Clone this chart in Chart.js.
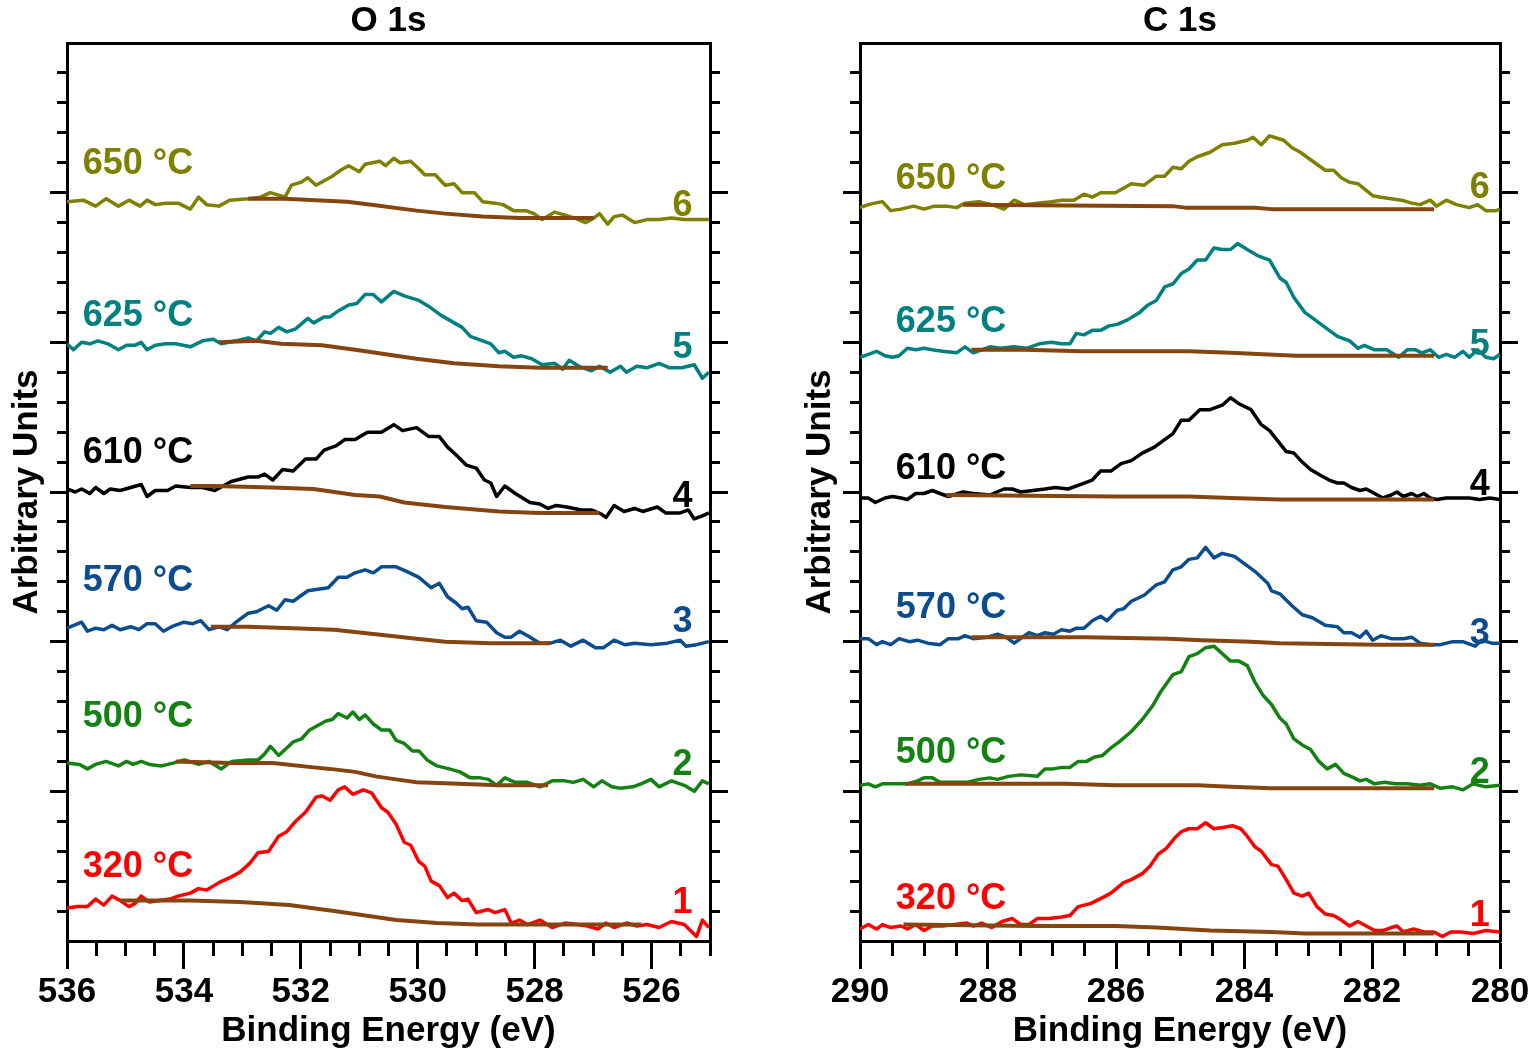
<!DOCTYPE html>
<html><head><meta charset="utf-8">
<script src="https://cdn.jsdelivr.net/npm/chart.js@4.4.1/dist/chart.umd.min.js"></script>
<style>
html,body{margin:0;padding:0;background:#fff;}
#wrap{position:relative;width:1534px;height:1052px;overflow:hidden;background:#fff;}
canvas{position:absolute;top:0;}
</style></head><body>
<div id="wrap">
<canvas id="cO" width="767" height="1052" style="left:0px"></canvas>
<canvas id="cC" width="767" height="1052" style="left:767px"></canvas>
</div>
<script>
// ---------- labels ----------
const panelTitles = ['O 1s', 'C 1s'];
const tempLabels = ['320 °C', '500 °C', '570 °C', '610 °C', '625 °C', '650 °C'];
const numLabels = ['1', '2', '3', '4', '5', '6'];
const xTicksO = [536, 534, 532, 530, 528, 526];
const xTicksC = [290, 288, 286, 284, 282, 280];
const yMajorTicks = [1, 2, 3, 4, 5];

// ---------- O 1s spectra: [binding energy (eV), intensity (a.u.)] ----------
const o1s_320 = [[536.00,0.22],[535.82,0.23],[535.65,0.23],[535.51,0.28],[535.37,0.24],[535.23,0.30],[535.09,0.27],[534.94,0.23],[534.84,0.25],[534.73,0.30],[534.59,0.26],[534.42,0.27],[534.24,0.28],[534.10,0.30],[533.89,0.32],[533.75,0.35],[533.61,0.34],[533.40,0.39],[533.18,0.43],[533.04,0.46],[532.87,0.52],[532.73,0.59],[532.55,0.60],[532.38,0.70],[532.24,0.73],[532.09,0.80],[531.92,0.86],[531.74,0.96],[531.64,0.97],[531.50,0.94],[531.36,1.01],[531.25,1.03],[531.11,0.98],[530.93,1.01],[530.79,0.99],[530.62,0.89],[530.51,0.86],[530.37,0.78],[530.23,0.66],[530.12,0.64],[529.98,0.53],[529.88,0.50],[529.77,0.40],[529.63,0.37],[529.49,0.29],[529.38,0.32],[529.24,0.27],[529.14,0.28],[529.00,0.19],[528.79,0.21],[528.68,0.19],[528.51,0.21],[528.40,0.12],[528.26,0.14],[528.12,0.11],[527.91,0.14],[527.70,0.09],[527.48,0.12],[527.27,0.11],[527.10,0.10],[526.92,0.08],[526.78,0.12],[526.64,0.09],[526.43,0.12],[526.25,0.10],[526.08,0.11],[525.87,0.09],[525.66,0.13],[525.44,0.11],[525.23,0.03],[525.13,0.14],[525.02,0.09]];
const o1s_500 = [[536.00,1.19],[535.79,1.18],[535.65,1.15],[535.51,1.18],[535.33,1.20],[535.12,1.17],[534.98,1.20],[534.87,1.18],[534.73,1.20],[534.59,1.18],[534.38,1.17],[534.17,1.19],[533.99,1.21],[533.75,1.18],[533.57,1.20],[533.36,1.15],[533.18,1.20],[532.90,1.21],[532.73,1.21],[532.62,1.25],[532.52,1.30],[532.38,1.24],[532.13,1.33],[531.99,1.35],[531.85,1.41],[531.71,1.44],[531.57,1.47],[531.46,1.48],[531.36,1.52],[531.21,1.49],[531.11,1.53],[531.00,1.48],[530.90,1.51],[530.76,1.45],[530.62,1.41],[530.48,1.41],[530.37,1.34],[530.23,1.32],[530.09,1.27],[529.98,1.27],[529.84,1.21],[529.67,1.17],[529.46,1.15],[529.28,1.13],[529.10,1.09],[528.93,1.09],[528.79,1.08],[528.65,1.04],[528.51,1.09],[528.33,1.06],[528.12,1.06],[527.91,1.03],[527.70,1.07],[527.48,1.07],[527.34,1.06],[527.17,1.08],[526.99,1.03],[526.85,1.07],[526.68,1.03],[526.53,1.02],[526.32,1.03],[526.18,1.05],[526.01,1.08],[525.87,1.03],[525.66,1.07],[525.44,1.04],[525.27,1.00],[525.13,1.07],[525.02,1.05]];
const o1s_570 = [[536.00,2.09],[535.75,2.13],[535.65,2.07],[535.51,2.09],[535.37,2.08],[535.23,2.11],[535.09,2.08],[534.91,2.10],[534.77,2.08],[534.63,2.12],[534.49,2.12],[534.35,2.07],[534.21,2.10],[534.00,2.13],[533.85,2.12],[533.71,2.14],[533.57,2.08],[533.40,2.10],[533.26,2.08],[533.11,2.13],[532.90,2.19],[532.76,2.20],[532.55,2.24],[532.41,2.21],[532.27,2.28],[532.13,2.27],[531.88,2.34],[531.71,2.35],[531.53,2.36],[531.36,2.43],[531.21,2.43],[531.07,2.46],[530.90,2.48],[530.76,2.46],[530.62,2.50],[530.37,2.50],[530.19,2.47],[529.98,2.43],[529.77,2.36],[529.63,2.39],[529.49,2.30],[529.35,2.26],[529.24,2.22],[529.14,2.23],[529.00,2.14],[528.82,2.13],[528.65,2.06],[528.51,2.03],[528.40,2.03],[528.26,2.07],[528.12,2.04],[527.91,1.99],[527.73,1.99],[527.56,2.01],[527.38,1.97],[527.17,2.01],[526.96,1.96],[526.82,1.96],[526.64,2.01],[526.46,1.98],[526.29,1.99],[526.01,1.98],[525.73,1.99],[525.51,2.01],[525.41,1.97],[525.23,1.98],[525.02,2.00]];
const o1s_610 = [[536.00,3.02],[535.86,3.00],[535.75,3.02],[535.61,2.99],[535.51,3.03],[535.37,2.99],[535.26,3.02],[535.09,3.01],[534.91,3.03],[534.73,3.05],[534.63,2.97],[534.49,3.01],[534.28,3.01],[534.14,3.04],[533.89,3.03],[533.68,3.03],[533.47,3.01],[533.19,3.07],[532.90,3.10],[532.73,3.10],[532.62,3.12],[532.48,3.08],[532.31,3.15],[532.13,3.14],[531.92,3.22],[531.74,3.22],[531.60,3.28],[531.39,3.31],[531.25,3.35],[531.07,3.35],[530.86,3.40],[530.62,3.40],[530.41,3.45],[530.26,3.41],[530.02,3.43],[529.81,3.37],[529.63,3.37],[529.49,3.30],[529.35,3.25],[529.17,3.18],[529.00,3.16],[528.86,3.08],[528.75,3.06],[528.65,2.97],[528.51,3.04],[528.33,2.99],[528.08,2.93],[527.91,2.92],[527.77,2.89],[527.63,2.91],[527.45,2.90],[527.20,2.88],[527.03,2.88],[526.85,2.85],[526.78,2.83],[526.64,2.91],[526.47,2.87],[526.29,2.89],[526.15,2.87],[525.90,2.90],[525.76,2.86],[525.51,2.86],[525.37,2.88],[525.27,2.82],[525.13,2.84],[525.02,2.86]];
const o1s_625 = [[536.00,3.99],[535.89,3.95],[535.75,4.00],[535.61,3.99],[535.47,4.01],[535.30,3.99],[535.12,3.95],[534.98,3.98],[534.84,3.98],[534.73,4.00],[534.63,3.95],[534.49,3.98],[534.31,3.99],[534.14,3.99],[533.89,3.97],[533.68,4.01],[533.50,4.02],[533.36,3.99],[533.11,4.01],[532.90,4.03],[532.76,4.01],[532.62,4.07],[532.52,4.06],[532.38,4.10],[532.24,4.07],[532.09,4.09],[531.88,4.16],[531.78,4.13],[531.60,4.17],[531.50,4.17],[531.36,4.21],[531.18,4.25],[531.04,4.26],[530.90,4.32],[530.76,4.32],[530.62,4.27],[530.41,4.34],[530.23,4.31],[529.98,4.28],[529.81,4.24],[529.60,4.18],[529.42,4.14],[529.24,4.10],[529.10,4.04],[528.89,4.01],[528.75,3.99],[528.61,3.93],[528.51,3.94],[528.36,3.90],[528.22,3.91],[528.05,3.89],[527.87,3.85],[527.66,3.86],[527.52,3.82],[527.41,3.88],[527.24,3.84],[527.03,3.81],[526.89,3.84],[526.71,3.80],[526.53,3.84],[526.43,3.80],[526.25,3.84],[526.08,3.83],[525.87,3.86],[525.69,3.83],[525.48,3.83],[525.27,3.85],[525.13,3.76],[525.02,3.80]];
const o1s_650 = [[536.00,4.94],[535.72,4.95],[535.51,4.91],[535.33,4.96],[535.12,4.91],[534.94,4.95],[534.75,4.91],[534.63,4.95],[534.49,4.92],[534.31,4.93],[534.10,4.93],[533.89,4.89],[533.75,4.97],[533.61,4.92],[533.40,4.91],[533.22,4.95],[532.90,4.96],[532.69,4.97],[532.52,5.00],[532.27,4.97],[532.16,5.05],[531.99,5.07],[531.88,5.10],[531.74,5.05],[531.60,5.08],[531.46,5.11],[531.32,5.15],[531.18,5.18],[531.00,5.14],[530.90,5.19],[530.65,5.21],[530.55,5.18],[530.41,5.23],[530.30,5.20],[530.12,5.21],[529.98,5.16],[529.88,5.12],[529.70,5.12],[529.53,5.05],[529.38,5.06],[529.24,5.00],[529.03,5.00],[528.89,4.94],[528.68,4.93],[528.54,4.92],[528.36,4.88],[528.15,4.88],[528.01,4.86],[527.87,4.82],[527.66,4.87],[527.48,4.85],[527.31,4.83],[527.13,4.80],[526.99,4.83],[526.89,4.86],[526.75,4.79],[526.64,4.84],[526.50,4.85],[526.29,4.80],[526.08,4.82],[525.87,4.82],[525.66,4.83],[525.44,4.82],[525.23,4.82],[525.02,4.82]];

// O 1s fitted backgrounds
const o1sBg_320 = [[535.09,0.27],[533.89,0.27],[533.04,0.26],[532.20,0.24],[531.43,0.20],[530.72,0.16],[530.37,0.14],[529.67,0.12],[528.96,0.11],[526.18,0.11]];
const o1sBg_500 = [[534.14,1.20],[533.18,1.19],[532.48,1.19],[531.78,1.16],[531.50,1.15],[531.07,1.13],[530.72,1.10],[530.37,1.08],[530.02,1.06],[529.31,1.05],[528.61,1.04],[527.77,1.04]];
const o1sBg_570 = [[533.54,2.10],[532.90,2.10],[532.13,2.09],[531.43,2.08],[530.72,2.05],[530.02,2.02],[529.53,2.00],[528.75,1.99],[527.73,1.99]];
const o1sBg_610 = [[533.89,3.04],[533.47,3.04],[532.48,3.03],[531.78,3.02],[531.07,2.98],[530.65,2.97],[530.23,2.93],[529.53,2.90],[528.61,2.87],[527.91,2.86],[526.89,2.86]];
const o1sBg_625 = [[533.40,4.00],[532.76,4.01],[532.34,3.99],[531.64,3.98],[531.07,3.95],[530.37,3.91],[530.02,3.89],[529.38,3.86],[528.61,3.84],[527.91,3.83],[526.75,3.83]];
const o1sBg_650 = [[532.90,4.96],[532.27,4.96],[531.21,4.94],[530.79,4.92],[530.02,4.88],[529.53,4.86],[528.89,4.84],[528.26,4.83],[526.99,4.83]];

// ---------- C 1s spectra ----------
const c1s_320 = [[290.00,0.08],[289.87,0.11],[289.74,0.08],[289.65,0.11],[289.52,0.09],[289.36,0.10],[289.26,0.08],[289.13,0.11],[289.00,0.07],[288.87,0.10],[288.71,0.10],[288.52,0.11],[288.33,0.12],[288.23,0.10],[288.10,0.12],[287.94,0.09],[287.78,0.13],[287.62,0.15],[287.49,0.11],[287.36,0.11],[287.23,0.15],[287.04,0.15],[286.85,0.16],[286.72,0.17],[286.59,0.23],[286.40,0.25],[286.21,0.29],[286.08,0.32],[285.88,0.39],[285.76,0.41],[285.59,0.45],[285.47,0.50],[285.34,0.58],[285.21,0.62],[285.08,0.69],[284.98,0.73],[284.86,0.75],[284.73,0.75],[284.60,0.79],[284.47,0.75],[284.31,0.76],[284.18,0.77],[284.05,0.75],[283.95,0.70],[283.83,0.63],[283.73,0.60],[283.57,0.51],[283.47,0.50],[283.34,0.41],[283.22,0.32],[283.09,0.30],[282.99,0.32],[282.86,0.23],[282.73,0.18],[282.60,0.17],[282.48,0.14],[282.35,0.10],[282.22,0.13],[282.09,0.10],[281.96,0.07],[281.83,0.07],[281.70,0.09],[281.61,0.10],[281.51,0.06],[281.35,0.08],[281.19,0.06],[281.03,0.06],[280.90,0.03],[280.77,0.06],[280.61,0.06],[280.42,0.05],[280.22,0.07],[280.00,0.06]];
const c1s_500 = [[290.00,1.04],[289.87,1.05],[289.76,1.03],[289.65,1.05],[289.49,1.05],[289.26,1.05],[289.10,1.07],[289.00,1.09],[288.87,1.09],[288.75,1.06],[288.52,1.06],[288.33,1.06],[288.14,1.08],[287.97,1.09],[287.85,1.08],[287.68,1.10],[287.49,1.11],[287.23,1.10],[287.11,1.15],[286.98,1.15],[286.85,1.16],[286.72,1.16],[286.59,1.20],[286.46,1.20],[286.33,1.23],[286.21,1.24],[286.08,1.29],[285.95,1.33],[285.76,1.40],[285.59,1.48],[285.43,1.57],[285.31,1.66],[285.21,1.72],[285.11,1.78],[284.98,1.80],[284.86,1.90],[284.73,1.92],[284.60,1.96],[284.47,1.97],[284.34,1.92],[284.21,1.87],[284.08,1.87],[283.95,1.84],[283.83,1.73],[283.70,1.64],[283.57,1.58],[283.44,1.49],[283.34,1.45],[283.22,1.35],[283.09,1.31],[282.96,1.28],[282.83,1.20],[282.70,1.15],[282.57,1.18],[282.44,1.12],[282.28,1.09],[282.19,1.07],[282.09,1.08],[281.96,1.05],[281.80,1.06],[281.64,1.05],[281.45,1.05],[281.25,1.04],[281.09,1.05],[280.93,1.02],[280.74,1.03],[280.58,1.01],[280.42,1.05],[280.22,1.03],[280.00,1.04]];
const c1s_570 = [[290.00,2.02],[289.87,2.02],[289.74,1.98],[289.65,2.00],[289.52,1.98],[289.39,2.02],[289.23,2.00],[289.10,2.01],[288.94,1.99],[288.75,1.98],[288.62,2.02],[288.46,2.02],[288.36,2.04],[288.23,2.02],[288.01,2.03],[287.85,2.05],[287.72,2.03],[287.59,1.99],[287.46,2.03],[287.36,2.06],[287.23,2.04],[287.11,2.06],[286.98,2.05],[286.85,2.08],[286.72,2.07],[286.62,2.09],[286.50,2.09],[286.37,2.14],[286.24,2.17],[286.14,2.14],[285.98,2.21],[285.88,2.22],[285.76,2.27],[285.56,2.31],[285.37,2.38],[285.24,2.40],[285.11,2.48],[284.98,2.50],[284.86,2.55],[284.73,2.56],[284.60,2.63],[284.47,2.56],[284.34,2.59],[284.15,2.57],[283.99,2.52],[283.83,2.47],[283.63,2.39],[283.57,2.34],[283.44,2.32],[283.25,2.24],[283.09,2.18],[282.93,2.16],[282.73,2.11],[282.54,2.10],[282.44,2.06],[282.32,2.06],[282.19,2.03],[282.09,2.07],[281.99,2.01],[281.86,2.04],[281.70,2.02],[281.51,2.02],[281.38,2.03],[281.25,1.99],[281.09,1.98],[280.93,1.98],[280.74,2.00],[280.58,2.00],[280.39,1.97],[280.29,2.01],[280.13,1.99],[280.00,1.99]];
const c1s_610 = [[290.00,2.96],[289.87,2.96],[289.76,2.93],[289.61,2.96],[289.49,2.97],[289.36,2.96],[289.26,2.95],[289.13,2.99],[289.00,2.99],[288.87,3.01],[288.75,2.99],[288.62,2.97],[288.39,3.00],[288.23,2.99],[287.97,2.98],[287.75,3.02],[287.62,3.02],[287.49,3.00],[287.30,3.01],[287.11,3.02],[286.95,3.03],[286.75,3.02],[286.56,3.05],[286.37,3.08],[286.24,3.14],[286.08,3.14],[285.92,3.19],[285.76,3.21],[285.59,3.26],[285.40,3.30],[285.24,3.35],[285.11,3.39],[284.98,3.48],[284.86,3.48],[284.69,3.55],[284.53,3.55],[284.34,3.58],[284.21,3.63],[284.08,3.59],[283.89,3.55],[283.73,3.45],[283.60,3.41],[283.47,3.34],[283.34,3.27],[283.22,3.26],[283.09,3.20],[282.96,3.15],[282.80,3.11],[282.67,3.08],[282.54,3.06],[282.44,3.06],[282.32,3.03],[282.19,3.01],[282.09,3.02],[281.96,2.99],[281.83,2.96],[281.70,2.98],[281.61,3.00],[281.51,2.97],[281.38,2.99],[281.29,2.97],[281.19,2.99],[281.09,2.96],[280.99,2.95],[280.84,2.96],[280.61,2.96],[280.48,2.96],[280.32,2.95],[280.16,2.96],[280.00,2.95]];
const c1s_625 = [[290.00,3.90],[289.87,3.92],[289.74,3.94],[289.61,3.91],[289.49,3.90],[289.39,3.91],[289.26,3.96],[289.13,3.95],[289.00,3.96],[288.87,3.95],[288.71,3.94],[288.49,3.93],[288.36,3.97],[288.23,3.93],[288.10,3.95],[287.97,3.97],[287.81,3.96],[287.59,3.97],[287.40,3.96],[287.20,3.99],[287.01,4.00],[286.85,3.99],[286.72,3.99],[286.62,4.06],[286.50,4.05],[286.37,4.08],[286.24,4.08],[286.11,4.11],[285.98,4.12],[285.82,4.15],[285.63,4.20],[285.50,4.25],[285.37,4.28],[285.24,4.37],[285.11,4.39],[284.98,4.46],[284.86,4.49],[284.73,4.55],[284.60,4.55],[284.47,4.63],[284.34,4.62],[284.21,4.62],[284.10,4.66],[283.95,4.62],[283.79,4.58],[283.60,4.55],[283.44,4.43],[283.34,4.40],[283.22,4.30],[283.05,4.20],[282.89,4.15],[282.70,4.09],[282.54,4.04],[282.35,4.01],[282.22,3.96],[282.12,3.98],[281.96,3.95],[281.77,3.95],[281.58,3.90],[281.45,3.95],[281.32,3.95],[281.22,3.93],[281.09,3.95],[280.96,3.90],[280.84,3.92],[280.71,3.90],[280.58,3.94],[280.48,3.90],[280.35,3.95],[280.22,3.90],[280.10,3.89],[280.00,3.92]];
const c1s_650 = [[290.00,4.90],[289.87,4.92],[289.77,4.93],[289.65,4.94],[289.52,4.88],[289.36,4.89],[289.16,4.91],[289.00,4.89],[288.84,4.91],[288.65,4.91],[288.49,4.90],[288.36,4.93],[288.14,4.94],[287.94,4.92],[287.75,4.89],[287.59,4.95],[287.43,4.92],[287.23,4.93],[287.01,4.94],[286.85,4.95],[286.66,4.95],[286.50,4.99],[286.37,4.97],[286.24,5.00],[286.01,5.00],[285.76,5.06],[285.56,5.05],[285.37,5.11],[285.24,5.11],[285.11,5.17],[284.98,5.16],[284.86,5.21],[284.73,5.24],[284.53,5.27],[284.34,5.32],[284.15,5.33],[283.95,5.35],[283.86,5.37],[283.73,5.32],[283.60,5.38],[283.38,5.35],[283.25,5.30],[283.12,5.27],[282.96,5.22],[282.73,5.15],[282.60,5.15],[282.48,5.10],[282.35,5.07],[282.22,5.06],[281.99,4.98],[281.86,4.97],[281.70,4.96],[281.54,4.95],[281.38,4.93],[281.25,4.92],[281.09,4.95],[280.99,4.91],[280.84,4.95],[280.68,4.92],[280.48,4.90],[280.35,4.92],[280.22,4.88],[280.06,4.88],[280.00,4.89]];

// C 1s fitted backgrounds
const c1sBg_320 = [[289.32,0.11],[287.30,0.10],[286.01,0.10],[285.37,0.09],[284.53,0.07],[283.57,0.06],[283.05,0.05],[281.03,0.05]];
const c1sBg_500 = [[289.29,1.05],[286.78,1.05],[286.01,1.04],[284.73,1.04],[284.21,1.03],[283.57,1.02],[281.03,1.02]];
const c1sBg_570 = [[288.26,2.03],[286.46,2.03],[285.18,2.02],[284.66,2.01],[283.89,2.00],[283.44,1.99],[281.90,1.98],[281.03,1.98]];
const c1sBg_610 = [[288.65,2.98],[286.01,2.97],[284.86,2.97],[284.21,2.96],[283.44,2.95],[281.03,2.95]];
const c1sBg_625 = [[288.26,3.95],[287.43,3.95],[286.53,3.94],[285.37,3.94],[284.86,3.94],[284.21,3.93],[283.70,3.92],[283.18,3.91],[281.03,3.91]];
const c1sBg_650 = [[288.39,4.92],[285.11,4.91],[284.92,4.90],[283.83,4.90],[283.57,4.89],[281.03,4.89]];

// ---------- styles / layout ----------
const FONT = '"Liberation Sans", Arial, Helvetica, sans-serif';
const seriesColors = ['#ff0000', '#138213', '#0b4c8f', '#000000', '#008080', '#808000'];
const bgColor = '#844510';

function minorList(lo, hi, step, majorStep) {
  const out = [];
  const n = Math.round((hi - lo) / step);
  for (let k = 0; k <= n; k++) {
    const v = +(lo + k * step).toFixed(3);
    if (Math.abs(v / majorStep - Math.round(v / majorStep)) > 1e-6) out.push(v);
  }
  return out;
}

const labelPlugin = {
  id: 'specLabels',
  afterDatasetsDraw(chart, args, opts) {
    const ctx = chart.ctx, xs = chart.scales.x, ys = chart.scales.y;
    ctx.save();
    ctx.font = 'bold 36px ' + FONT;
    ctx.textBaseline = 'middle';
    opts.temps.forEach((t, i) => {
      ctx.fillStyle = seriesColors[i];
      ctx.textAlign = 'left';
      ctx.fillText(t, xs.getPixelForValue(opts.tempX), ys.getPixelForValue(opts.tempY[i]) + 1);
      ctx.textAlign = 'right';
      ctx.fillText(numLabels[i], xs.getPixelForValue(opts.numX), ys.getPixelForValue(opts.numY[i]) + 1);
    });
    ctx.restore();
  }
};

function buildPanel(id, p) {
  const datasets = [];
  p.spectra.forEach((s, i) => datasets.push({
    label: tempLabels[i], data: s.map(d => ({x: d[0], y: d[1]})),
    borderColor: seriesColors[i], borderWidth: 3.5, pointRadius: 0, tension: 0,
    fill: false, order: 2, xAxisID: 'x', yAxisID: 'y', borderJoinStyle: 'round'
  }));
  p.backgrounds.forEach((s, i) => datasets.push({
    label: 'bg ' + tempLabels[i], data: s.map(d => ({x: d[0], y: d[1]})),
    borderColor: bgColor, borderWidth: 4, pointRadius: 0, tension: 0,
    fill: false, order: 1, xAxisID: 'x', yAxisID: 'y', borderJoinStyle: 'round'
  }));
  const font35 = {family: FONT, size: 35, weight: 'bold'};
  const xMinor = minorList(p.xMax === 536 ? 525 : 280, p.xMax, 0.5, 2);
  const yMinor = minorList(0, 6, 0.2, 1).filter(v => v > 0 && v < 6);
  const setTicks = arr => (a => { a.ticks = arr.map(v => ({value: v})); });
  const baseX = {type: 'linear', min: p.xMin, max: p.xMax, reverse: true};
  const baseY = {type: 'linear', min: 0, max: 6};
  new Chart(document.getElementById(id), {
    type: 'line',
    data: {datasets},
    plugins: [labelPlugin],
    options: {
      responsive: false, animation: false, devicePixelRatio: 1,
      layout: {padding: 0},
      plugins: {
        legend: {display: false}, tooltip: {enabled: false},
        title: {display: true, text: p.title, color: '#000', font: font35,
                padding: {top: 0, bottom: 1}, fullSize: false},
        specLabels: p.labels
      },
      scales: {
        x: Object.assign({}, baseX, {
          position: 'bottom', weight: 1,
          afterBuildTicks: setTicks(p.xTicks),
          afterFit: a => { a.height = 111; },
          ticks: {display: true, autoSkip: false, maxRotation: 0, padding: 2, color: '#000',
                  font: font35, callback: v => String(v)},
          grid: {display: true, drawOnChartArea: false, drawTicks: true, tickLength: 28, tickWidth: 3, tickColor: '#000'},
          border: {display: true, color: '#000', width: 3},
          title: {display: true, text: 'Binding Energy (eV)', color: '#000', font: font35, padding: {top: 0, bottom: 0}}
        }),
        xMinor: Object.assign({}, baseX, {
          position: 'bottom', weight: 0,
          afterBuildTicks: setTicks(xMinor),
          afterFit: a => { a.height = 0; },
          ticks: {display: false},
          grid: {display: true, drawOnChartArea: false, drawTicks: true, tickLength: 15, tickWidth: 3, tickColor: '#000'},
          border: {display: false}
        }),
        xTop: Object.assign({}, baseX, {
          position: 'top',
          afterFit: a => { a.height = 0; },
          ticks: {display: false},
          grid: {display: false},
          border: {display: true, color: '#000', width: 3}
        }),
        y: Object.assign({}, baseY, {
          position: 'left', weight: 1,
          afterBuildTicks: setTicks(yMajorTicks),
          afterFit: a => { a.width = p.leftW; },
          ticks: {display: false},
          grid: {display: true, drawOnChartArea: false, drawTicks: true, tickLength: 17, tickWidth: 3, tickColor: '#000'},
          border: {display: true, color: '#000', width: 3},
          title: {display: true, text: 'Arbitrary Units', color: '#000', font: font35, padding: {top: p.yTitlePad, bottom: 0}}
        }),
        yMinor: Object.assign({}, baseY, {
          position: 'left', weight: 0,
          afterBuildTicks: setTicks(yMinor),
          afterFit: a => { a.width = 0; },
          ticks: {display: false},
          grid: {display: true, drawOnChartArea: false, drawTicks: true, tickLength: 10, tickWidth: 3, tickColor: '#000'},
          border: {display: false}
        }),
        yR: Object.assign({}, baseY, {
          position: 'right', weight: 1,
          afterBuildTicks: setTicks(yMajorTicks),
          afterFit: a => { a.width = p.rightW; },
          ticks: {display: false},
          grid: {display: true, drawOnChartArea: false, drawTicks: true, tickLength: 18, tickWidth: 3, tickColor: '#000'},
          border: {display: true, color: '#000', width: 3}
        }),
        yRMinor: Object.assign({}, baseY, {
          position: 'right', weight: 0,
          afterBuildTicks: setTicks(yMinor),
          afterFit: a => { a.width = 0; },
          ticks: {display: false},
          grid: {display: true, drawOnChartArea: false, drawTicks: true, tickLength: 10, tickWidth: 3, tickColor: '#000'},
          border: {display: false}
        })
      }
    }
  });
}

buildPanel('cO', {
  title: panelTitles[0], xMin: 525, xMax: 536, xTicks: xTicksO,
  spectra: [o1s_320, o1s_500, o1s_570, o1s_610, o1s_625, o1s_650],
  backgrounds: [o1sBg_320, o1sBg_500, o1sBg_570, o1sBg_610, o1sBg_625, o1sBg_650],
  leftW: 67, rightW: 57, yTitlePad: 6,
  labels: {temps: tempLabels, tempX: 535.73, tempY: [0.50, 1.50, 2.41, 3.27, 4.18, 5.20],
           numX: 525.30, numY: [0.26, 1.18, 2.14, 2.97, 3.97, 4.92]}
});
buildPanel('cC', {
  title: panelTitles[1], xMin: 280, xMax: 290, xTicks: xTicksC,
  spectra: [c1s_320, c1s_500, c1s_570, c1s_610, c1s_625, c1s_650],
  backgrounds: [c1sBg_320, c1sBg_500, c1sBg_570, c1sBg_610, c1sBg_625, c1sBg_650],
  leftW: 93, rightW: 34, yTitlePad: 32,
  labels: {temps: tempLabels, tempX: 289.44, tempY: [0.29, 1.26, 2.23, 3.16, 4.14, 5.10],
           numX: 280.16, numY: [0.17, 1.13, 2.06, 3.05, 3.99, 5.04]}
});
</script>
</body></html>
